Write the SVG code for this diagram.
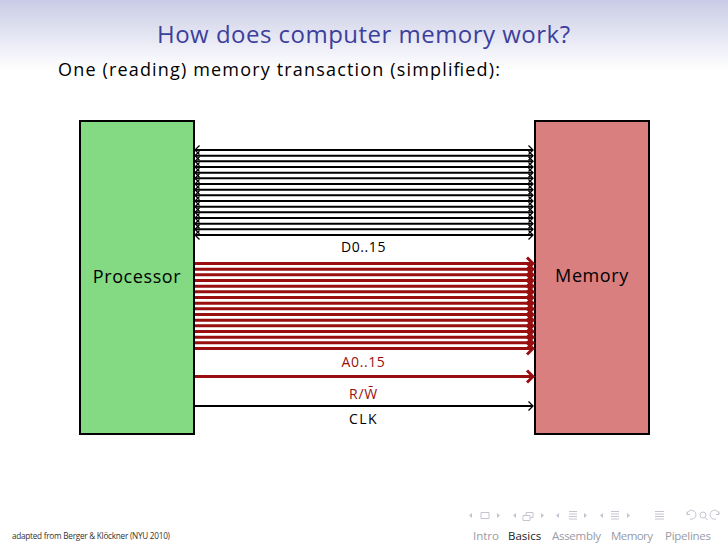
<svg xmlns="http://www.w3.org/2000/svg" width="728" height="546" viewBox="0 0 728 546">
<defs>
<linearGradient id="hdr" x1="0" y1="0" x2="0" y2="1"><stop offset="0" stop-color="#c9cce6"/><stop offset="1" stop-color="#ffffff"/></linearGradient>
<marker id="ab" markerUnits="userSpaceOnUse" markerWidth="8" markerHeight="12" refX="6" refY="6" orient="auto-start-reverse"><path d="M1.5 1.500L6 6L1.500 10.500" fill="none" stroke="#000" stroke-width="1.300"/></marker>
<marker id="ar" markerUnits="userSpaceOnUse" markerWidth="10" markerHeight="16" refX="8" refY="8" orient="auto"><path d="M2 2L8 8L2 14" fill="none" stroke="#990f0f" stroke-width="3"/></marker>
</defs>
<style>
text{font-family:"Open Sans","Liberation Sans",sans-serif}
.box{stroke:#000;stroke-width:2}
.k{stroke:#000;stroke-width:2;fill:none}
.r{stroke:#990f0f;stroke-width:3;fill:none}
.lb{font-size:14px;text-anchor:middle}
.nav{fill:none;stroke:#c4c4d2;stroke-width:1}
.navf{fill:#c4c4d2}
.sec{font-size:11.500px;fill:#9a9aa6}
</style>
<rect width="728" height="70" fill="url(#hdr)"/>
<text x="363.500" y="43" font-size="24" fill="#3c3f9b" text-anchor="middle" textLength="413" lengthAdjust="spacing">How does computer memory work?</text>
<text x="58" y="76" font-size="18" fill="#000" textLength="442" lengthAdjust="spacing">One (reading) memory transaction (simplified):</text>
<g id="processor"><rect class="box" x="80" y="121" width="114" height="313" fill="#83da83"/><text x="137" y="283" font-size="18" text-anchor="middle" letter-spacing=".6">Processor</text></g>
<g id="memory"><rect class="box" x="535" y="121" width="114" height="313" fill="#d97f7f"/><text x="592" y="282" font-size="18" text-anchor="middle" letter-spacing=".6">Memory</text></g>
<g id="connectors">
<g class="k">
<path d="M195 150H533" marker-start="url(#ab)" marker-end="url(#ab)"/><path d="M195 155.700H533" marker-start="url(#ab)" marker-end="url(#ab)"/><path d="M195 161.300H533" marker-start="url(#ab)" marker-end="url(#ab)"/><path d="M195 167H533" marker-start="url(#ab)" marker-end="url(#ab)"/><path d="M195 172.700H533" marker-start="url(#ab)" marker-end="url(#ab)"/><path d="M195 178.300H533" marker-start="url(#ab)" marker-end="url(#ab)"/><path d="M195 184H533" marker-start="url(#ab)" marker-end="url(#ab)"/><path d="M195 189.700H533" marker-start="url(#ab)" marker-end="url(#ab)"/><path d="M195 195.300H533" marker-start="url(#ab)" marker-end="url(#ab)"/><path d="M195 201H533" marker-start="url(#ab)" marker-end="url(#ab)"/><path d="M195 206.700H533" marker-start="url(#ab)" marker-end="url(#ab)"/><path d="M195 212.300H533" marker-start="url(#ab)" marker-end="url(#ab)"/><path d="M195 218H533" marker-start="url(#ab)" marker-end="url(#ab)"/><path d="M195 223.700H533" marker-start="url(#ab)" marker-end="url(#ab)"/><path d="M195 229.300H533" marker-start="url(#ab)" marker-end="url(#ab)"/><path d="M195 235H533" marker-start="url(#ab)" marker-end="url(#ab)"/>
</g>
<g class="r">
<path d="M195 263.500H533" marker-end="url(#ar)"/><path d="M195 269.200H533" marker-end="url(#ar)"/><path d="M195 274.800H533" marker-end="url(#ar)"/><path d="M195 280.500H533" marker-end="url(#ar)"/><path d="M195 286.200H533" marker-end="url(#ar)"/><path d="M195 291.800H533" marker-end="url(#ar)"/><path d="M195 297.500H533" marker-end="url(#ar)"/><path d="M195 303.200H533" marker-end="url(#ar)"/><path d="M195 308.800H533" marker-end="url(#ar)"/><path d="M195 314.500H533" marker-end="url(#ar)"/><path d="M195 320.200H533" marker-end="url(#ar)"/><path d="M195 325.800H533" marker-end="url(#ar)"/><path d="M195 331.500H533" marker-end="url(#ar)"/><path d="M195 337.200H533" marker-end="url(#ar)"/><path d="M195 342.800H533" marker-end="url(#ar)"/><path d="M195 348.500H533" marker-end="url(#ar)"/>
<path d="M195 376.500H533" marker-end="url(#ar)"/>
</g>
<path class="k" d="M195 406H533" marker-end="url(#ab)"/>
</g>
<text class="lb" x="363.500" y="252" fill="#000" letter-spacing=".6">D0..15</text>
<text class="lb" x="363.500" y="367" fill="#990f0f" letter-spacing=".6">A0..15</text>
<text class="lb" x="363.500" y="399" fill="#990f0f" letter-spacing=".8">R/W̄</text>
<text class="lb" x="363.500" y="424" fill="#000" letter-spacing="1.500">CLK</text>
<text x="12" y="539" font-size="8.200" fill="#333" textLength="158" lengthAdjust="spacing">adapted from Berger &amp; Klöckner (NYU 2010)</text>
<text class="sec" x="473" y="540">Intro</text>
<text class="sec" x="508" y="540" style="fill:#222">Basics</text>
<text class="sec" x="552" y="540" textLength="49">Assembly</text>
<text class="sec" x="611" y="540" textLength="42">Memory</text>
<text class="sec" x="665" y="540" textLength="46">Pipelines</text>
<g id="nav">
<path class="navf" d="M472 513l-3 2.500 3 2.500zM497 513l3 2.500-3 2.500zM516 513l-3 2.500 3 2.500zM541 513l3 2.500-3 2.500zM559 513l-3 2.500 3 2.500zM584 513l3 2.500-3 2.500zM603 513l-3 2.500 3 2.500zM627 513l3 2.500-3 2.500z"/>
<path class="nav" d="M481 512.500h8v6h-8zM523 515.500h7v5h-7zM526 515.500v-3h7v5h-3M569 511.500h8M569 514h8M569 516.500h8M569 519h8M611 511.500h8M611 514h8M611 516.500h8M611 519h8M655 511.500h9M655 514h9M655 516.500h9M655 519h9M687 514a4.500 4.500 0 1 1 3 5M687 511.500v3h3M706 515a3 3 0 1 0-6 0a3 3 0 1 0 6 0M705 517.500l2.500 2.500M719 514a4.500 4.500 0 1 0-3 5M719 511.500v3h-3"/>
</g>
</svg>
